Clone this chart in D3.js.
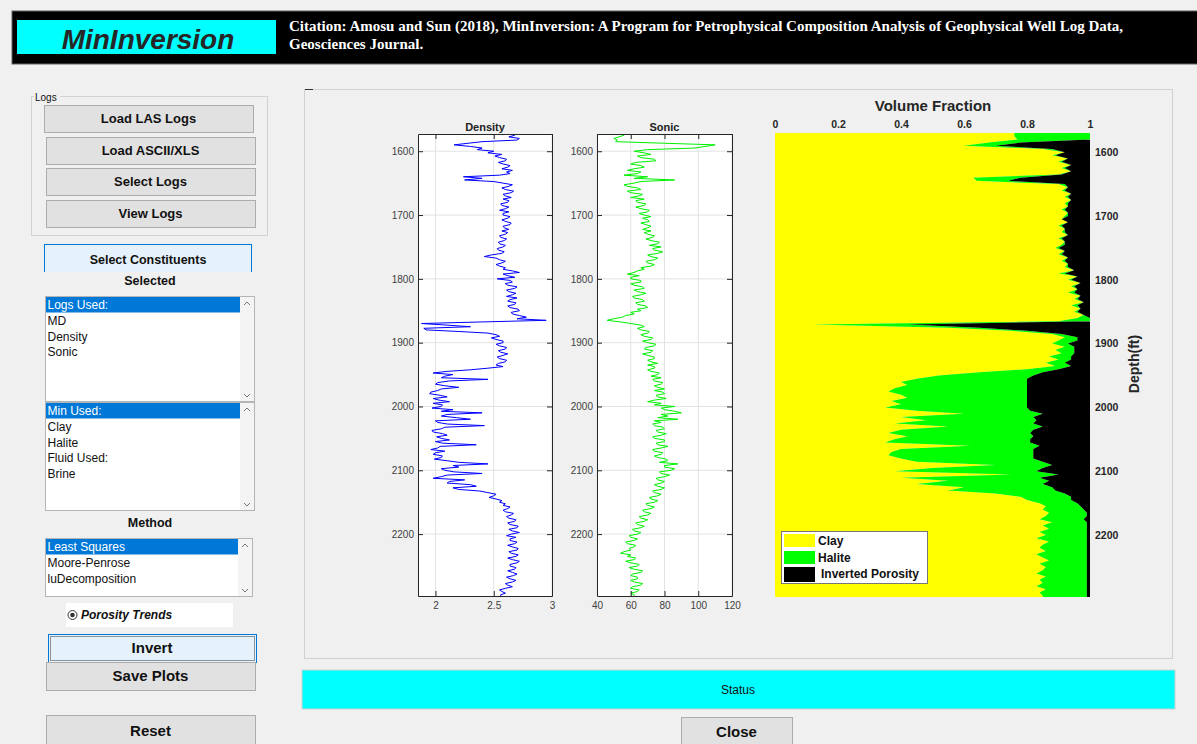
<!DOCTYPE html>
<html><head><meta charset="utf-8">
<script src="https://cdn.jsdelivr.net/npm/d3@7"></script>
<style>
html,body{margin:0;padding:0;background:#f0f0f0;}
svg{display:block;}
text{font-family:"Liberation Sans",Arial,sans-serif;}
</style></head><body>
<svg id="c" width="1197" height="744"></svg>
<script>
// ---------------- DATA ----------------
const logStart = 1575, logStep = 2.5;            // ft, sampling of the density / sonic logs
const vfStart = 1575, vfStep = 5;                // ft, sampling of the inverted fractions
const depthLimits = [1573, 2297];                // log track depth range
const vfDepthLimits = [1570, 2297];              // volume-fraction track depth range
const density = [
 2.68,2.63,2.72,2.70,2.40,2.28,2.16,2.30,2.40,2.36,2.50,2.45,2.57,2.51,2.55,2.61,2.60,2.54,2.58,2.64,
 2.62,2.57,2.66,2.61,2.64,2.55,2.24,2.40,2.25,2.50,2.58,2.66,2.63,2.57,2.60,2.67,2.65,2.58,2.60,2.65,
 2.58,2.63,2.62,2.56,2.57,2.63,2.60,2.55,2.63,2.58,2.58,2.64,2.62,2.57,2.60,2.65,2.64,2.58,2.59,2.63,
 2.57,2.62,2.60,2.55,2.56,2.61,2.59,2.54,2.55,2.60,2.58,2.53,2.54,2.59,2.57,2.48,2.42,2.52,2.55,2.60,
 2.57,2.52,2.55,2.60,2.58,2.66,2.72,2.58,2.62,2.68,2.53,2.64,2.66,2.60,2.62,2.70,2.68,2.61,2.63,2.69,
 2.66,2.61,2.70,2.64,2.62,2.69,2.68,2.62,2.64,2.71,2.72,2.65,2.66,2.72,2.78,2.70,2.95,2.40,1.88,2.10,
 2.30,1.90,1.92,2.20,2.45,2.52,2.55,2.48,2.52,2.58,2.58,2.52,2.55,2.61,2.60,2.54,2.56,2.62,2.58,2.53,
 2.55,2.61,2.60,2.54,2.52,2.58,2.45,2.30,2.10,1.98,2.15,2.08,2.05,2.45,2.12,2.02,2.00,2.08,2.20,2.05,
 2.02,1.96,1.95,2.04,2.10,1.98,2.03,2.12,1.98,2.06,2.05,1.97,2.15,2.05,2.40,2.10,2.05,2.18,2.30,2.00,
 2.02,2.10,2.42,2.08,2.05,1.97,1.98,2.06,2.10,2.01,2.05,2.12,2.00,2.06,2.35,2.04,2.02,1.96,2.08,2.00,
 1.98,2.06,2.05,1.99,2.10,2.20,2.45,2.15,2.20,2.05,2.08,2.16,2.40,2.10,2.05,1.98,2.25,2.12,2.10,2.30,
 2.35,2.15,2.20,2.38,2.45,2.52,2.50,2.46,2.52,2.57,2.55,2.60,2.58,2.64,2.62,2.58,2.60,2.67,2.65,2.61,
 2.63,2.69,2.68,2.62,2.64,2.71,2.70,2.63,2.66,2.72,2.65,2.61,2.69,2.64,2.64,2.70,2.68,2.62,2.66,2.71,
 2.70,2.63,2.65,2.71,2.69,2.62,2.66,2.72,2.70,2.64,2.64,2.69,2.68,2.62,2.66,2.70,2.67,2.61,2.64,2.69,
 2.66,2.60,2.62,2.66,2.60,2.55,2.57,2.60,2.56];
const sonic = [
 56,53,50,52,51,80,110,104,98,70,62,68,72,64,66,74,75,63,60,66,
 68,62,58,66,64,56,70,62,86,66,62,56,58,64,66,58,60,67,65,60,
 68,63,64,69,68,63,66,71,70,65,68,72,67,70,71,66,69,72,70,67,
 72,68,70,74,73,69,72,77,76,71,78,73,74,79,76,70,72,76,74,69,
 70,74,72,66,68,64,62,58,65,60,60,66,66,60,62,67,68,62,64,69,
 66,61,62,67,68,63,64,69,70,64,66,60,62,57,55,50,46,54,60,66,
 68,64,66,71,70,66,68,73,72,67,70,75,74,69,68,73,72,67,70,74,
 74,70,72,76,70,74,74,70,72,77,76,72,78,73,74,79,78,74,76,80,
 74,79,80,75,76,81,74,70,78,74,86,78,80,86,90,78,82,76,88,74,
 78,73,74,79,80,75,76,81,78,73,74,80,80,75,76,82,78,73,74,79,
 78,74,76,81,82,77,88,80,80,86,84,77,78,83,80,75,76,80,78,74,
 76,80,78,73,74,78,76,71,72,76,74,69,70,74,72,67,68,72,70,65,
 66,70,68,63,64,68,66,61,62,66,64,59,60,64,62,57,58,63,62,59,
 60,56,54,60,58,63,62,57,60,65,64,59,62,67,66,61,60,64,64,60,
 62,67,66,61,60,65,64,60,62];
const clay = [
 0.76,0.77,0.68,0.60,0.85,0.92,0.88,0.93,0.90,0.94,
 0.91,0.94,0.90,0.63,0.64,0.90,0.93,0.91,0.94,0.92,
 0.94,0.92,0.93,0.91,0.93,0.92,0.91,0.93,0.90,0.92,
 0.91,0.93,0.90,0.92,0.91,0.89,0.92,0.90,0.93,0.91,
 0.93,0.92,0.95,0.90,0.96,0.93,0.97,0.94,0.96,0.93,
 0.97,0.95,0.98,0.94,0.97,0.95,0.98,0.96,0.90,0.12,
 0.55,0.75,0.88,0.92,0.90,0.88,0.92,0.89,0.91,0.87,
 0.90,0.86,0.89,0.80,0.65,0.52,0.45,0.40,0.42,0.38,
 0.36,0.40,0.42,0.37,0.40,0.35,0.45,0.60,0.40,0.48,
 0.38,0.55,0.40,0.36,0.42,0.38,0.35,0.62,0.40,0.37,
 0.36,0.40,0.45,0.70,0.50,0.38,0.75,0.40,0.55,0.45,
 0.60,0.55,0.70,0.78,0.80,0.84,0.86,0.85,0.87,0.86,
 0.84,0.88,0.85,0.87,0.84,0.86,0.83,0.87,0.85,0.84,
 0.86,0.83,0.85,0.87,0.84,0.86,0.85,0.83,0.86,0.84,
 0.85,0.83,0.86,0.84,0.85];
const halite = [
 0.24,0.23,0.10,0.10,0.03,0.00,0.01,0.00,0.01,0.00,
 0.01,0.00,0.01,0.15,0.10,0.02,0.00,0.01,0.00,0.01,
 0.00,0.01,0.00,0.01,0.00,0.01,0.00,0.00,0.01,0.00,
 0.01,0.00,0.01,0.00,0.01,0.01,0.00,0.01,0.00,0.01,
 0.00,0.01,0.00,0.02,0.00,0.01,0.00,0.01,0.00,0.02,
 0.00,0.01,0.00,0.02,0.00,0.01,0.00,0.04,0.10,0.30,
 0.10,0.05,0.03,0.04,0.06,0.05,0.03,0.06,0.04,0.07,
 0.04,0.06,0.05,0.10,0.20,0.30,0.35,0.40,0.38,0.42,
 0.44,0.40,0.38,0.43,0.40,0.45,0.36,0.25,0.42,0.35,
 0.44,0.30,0.42,0.45,0.40,0.43,0.46,0.22,0.42,0.45,
 0.46,0.42,0.40,0.18,0.35,0.45,0.15,0.44,0.32,0.40,
 0.28,0.34,0.22,0.16,0.14,0.12,0.11,0.13,0.12,0.13,
 0.14,0.11,0.14,0.12,0.15,0.13,0.16,0.12,0.14,0.15,
 0.13,0.16,0.14,0.12,0.15,0.13,0.14,0.16,0.13,0.15,
 0.14,0.16,0.13,0.15,0.14];
const densityTicks = [2, 2.5, 3];
const densityDomain = [1.85, 3];
const sonicTicks = [40, 60, 80, 100, 120];
const sonicDomain = [40, 120];
const depthTicks = [1600, 1700, 1800, 1900, 2000, 2100, 2200];
const fractionTicks = [0, 0.2, 0.4, 0.6, 0.8, 1];
const legendLabels = ["Clay", "Halite", "Inverted Porosity"];
const legendColors = ["#ffff00", "#00ff00", "#000000"];
const logButtons = ["Load LAS Logs", "Load ASCII/XLS", "Select Logs", "View Logs"];
const logsUsed = ["Logs Used:", "MD", "Density", "Sonic"];
const minUsed = ["Min Used:", "Clay", "Halite", "Fluid Used:", "Brine"];
const methods = ["Least Squares", "Moore-Penrose", "luDecomposition"];
const citation = ["Citation: Amosu and Sun (2018), MinInversion: A Program for Petrophysical Composition Analysis of Geophysical Well Log Data,",
                  "Geosciences Journal."];

// ---------------- DRAW ----------------
const svg = d3.select("#c");
const logDepths = density.map((_, i) => logStart + i * logStep);
const vfDepths = clay.map((_, i) => vfStart + i * vfStep);

// header
svg.append("rect").attr("x", 12).attr("y", 11).attr("width", 1186).attr("height", 53)
  .attr("fill", "#000").attr("stroke", "#606060");
svg.append("rect").attr("x", 17).attr("y", 20).attr("width", 259).attr("height", 34).attr("fill", "#00ffff");
svg.append("text").attr("x", 148).attr("y", 48.5).attr("text-anchor", "middle")
  .attr("font-size", 28).attr("font-weight", "bold").attr("font-style", "italic").attr("fill", "#262626")
  .text("MinInversion");
svg.selectAll(".cit").data(citation).join("text").attr("class", "cit")
  .attr("x", 289).attr("y", (d, i) => 31 + i * 18)
  .attr("fill", "#fff").attr("font-weight", "bold").attr("font-size", 15)
  .style("font-family", '"Liberation Serif","Times New Roman",serif').text(d => d);

function button(x, y, w, h, label, fs, opt = {}) {
  const g = svg.append("g");
  g.append("rect").attr("x", x + 0.5).attr("y", y + 0.5).attr("width", w).attr("height", h)
    .attr("fill", opt.fill || "#e1e1e1").attr("stroke", opt.stroke || "#adadad");
  if (opt.focus) g.append("rect").attr("x", x + 2.5).attr("y", y + 2.5).attr("width", w - 4).attr("height", h - 4)
    .attr("fill", "none").attr("stroke", "#333").attr("stroke-dasharray", "1,1");
  g.append("text").attr("x", x + w / 2).attr("y", y + h / 2).attr("dy", "0.36em").attr("text-anchor", "middle")
    .attr("font-size", fs).attr("font-weight", "bold").attr("fill", "#111").text(label);
}

// Logs group
svg.append("rect").attr("x", 31.5).attr("y", 96.5).attr("width", 236).attr("height", 139)
  .attr("fill", "none").attr("stroke", "#d2d2d2");
svg.append("rect").attr("x", 34).attr("y", 91).attr("width", 26).attr("height", 11).attr("fill", "#f0f0f0");
svg.append("text").attr("x", 35).attr("y", 100.5).attr("font-size", 10).attr("fill", "#111").text("Logs");
const lbY = [105, 137, 168, 200], lbX = [44, 46, 46, 46];
logButtons.forEach((t, i) => button(lbX[i], lbY[i], 209, 27, t, 13));

// Select constituents
svg.append("rect").attr("x", 44.5).attr("y", 244.5).attr("width", 207).attr("height", 30)
  .attr("fill", "#e5f1fb").attr("stroke", "#0078d7");
svg.append("rect").attr("x", 44).attr("y", 272).attr("width", 210).attr("height", 18).attr("fill", "#f0f0f0");
svg.append("text").attr("x", 148).attr("y", 259).attr("dy", "0.36em").attr("text-anchor", "middle")
  .attr("font-size", 12.5).attr("font-weight", "bold").attr("fill", "#111").text("Select Constituents");
svg.append("text").attr("x", 150).attr("y", 280).attr("dy", "0.36em").attr("text-anchor", "middle")
  .attr("font-size", 12.5).attr("font-weight", "bold").attr("fill", "#111").text("Selected");

function listbox(x, y, w, h, items) {
  const g = svg.append("g");
  g.append("rect").attr("x", x + 0.5).attr("y", y + 0.5).attr("width", w).attr("height", h)
    .attr("fill", "#fff").attr("stroke", "#b5b5b5");
  g.append("rect").attr("x", x + w - 14).attr("y", y + 1).attr("width", 14).attr("height", h - 1).attr("fill", "#f4f4f4");
  g.append("rect").attr("x", x + 1).attr("y", y + 1).attr("width", w - 15).attr("height", 15.5).attr("fill", "#0078d7");
  g.selectAll("text").data(items).join("text").attr("x", x + 2.5).attr("y", (d, i) => y + 9 + i * 15.6)
    .attr("dy", "0.36em").attr("font-size", 12).attr("fill", (d, i) => i === 0 ? "#fff" : "#111").text(d => d);
  const ax = x + w - 7;
  g.append("path").attr("d", `M${ax - 3},${y + 9} L${ax},${y + 6} L${ax + 3},${y + 9}`).attr("fill", "none").attr("stroke", "#777");
  g.append("path").attr("d", `M${ax - 3},${y + h - 7} L${ax},${y + h - 4} L${ax + 3},${y + h - 7}`).attr("fill", "none").attr("stroke", "#777");
}
listbox(45, 296, 209, 105, logsUsed);
listbox(45, 402, 209, 108, minUsed);
svg.append("text").attr("x", 150).attr("y", 522.5).attr("dy", "0.36em").attr("text-anchor", "middle")
  .attr("font-size", 12.5).attr("font-weight", "bold").attr("fill", "#111").text("Method");
listbox(45, 538, 207, 58, methods);

// Porosity trends radio
svg.append("rect").attr("x", 66).attr("y", 603).attr("width", 167).attr("height", 24).attr("fill", "#fff");
svg.append("circle").attr("cx", 72.5).attr("cy", 615).attr("r", 4.5).attr("fill", "#fff").attr("stroke", "#333");
svg.append("circle").attr("cx", 72.5).attr("cy", 615).attr("r", 2.3).attr("fill", "#333");
svg.append("text").attr("x", 81).attr("y", 615).attr("dy", "0.36em").attr("font-size", 12)
  .attr("font-weight", "bold").attr("font-style", "italic").attr("fill", "#111").text("Porosity Trends");

button(48, 634, 208, 28, "Invert", 15, { fill: "#e5f1fb", stroke: "#0078d7", focus: true });
button(46, 662, 209, 28, "Save Plots", 15);
button(46, 715, 209, 31, "Reset", 15);

// plot panel
svg.append("rect").attr("x", 304.5).attr("y", 89.5).attr("width", 868).attr("height", 569)
  .attr("fill", "none").attr("stroke", "#d0d0d0");
svg.append("line").attr("x1", 305).attr("x2", 313).attr("y1", 89.5).attr("y2", 89.5).attr("stroke", "#333");

// status + close
svg.append("rect").attr("x", 302).attr("y", 670).attr("width", 873).attr("height", 39)
  .attr("fill", "#00ffff").attr("stroke", "#cfcfcf");
svg.append("text").attr("x", 738).attr("y", 690).attr("dy", "0.36em").attr("text-anchor", "middle")
  .attr("font-size", 12).attr("fill", "#111").style("font-family", '"Liberation Sans Narrow","Liberation Sans",sans-serif')
  .text("Status");
button(681, 717, 111, 30, "Close", 15);

// ---- log tracks ----
const yDepth = d3.scaleLinear().domain(depthLimits).range([134, 596]);
function logTrack(x0, x1, domain, ticks, values, color, title) {
  const x = d3.scaleLinear().domain(domain).range([x0, x1]);
  const g = svg.append("g");
  const [yt, yb] = yDepth.range();
  g.append("rect").attr("x", x0).attr("y", yt).attr("width", x1 - x0).attr("height", yb - yt).attr("fill", "#fff");
  g.selectAll(".vg").data(ticks).join("line").attr("x1", d => x(d)).attr("x2", d => x(d))
    .attr("y1", yt).attr("y2", yb).attr("stroke", "#e2e2e2");
  g.selectAll(".hg").data(depthTicks).join("line").attr("x1", x0).attr("x2", x1)
    .attr("y1", d => yDepth(d)).attr("y2", d => yDepth(d)).attr("stroke", "#e2e2e2");
  const pts = [{ d: depthLimits[0], v: values[0] }, ...values.map((v, i) => ({ d: logDepths[i], v })),
               { d: depthLimits[1], v: values[values.length - 1] }];
  g.append("path").datum(pts).attr("d", d3.line().x(p => x(p.v)).y(p => yDepth(p.d)))
    .attr("fill", "none").attr("stroke", color).attr("stroke-width", 1);
  const fmt = d => String(d);
  const style = a => {
    a.select(".domain").attr("stroke", "#262626");
    a.selectAll(".tick line").attr("stroke", "#262626");
    a.selectAll("text").attr("fill", "#404040").attr("font-size", 10).style("font-family", '"Liberation Sans",Arial,sans-serif');
  };
  g.append("g").attr("transform", `translate(${x0},0)`)
    .call(d3.axisLeft(yDepth).tickValues(depthTicks).tickSizeInner(-5).tickSizeOuter(0).tickPadding(4).tickFormat(fmt)).call(style);
  g.append("g").attr("transform", `translate(${x1},0)`)
    .call(d3.axisRight(yDepth).tickValues(depthTicks).tickSizeInner(-5).tickSizeOuter(0).tickFormat("")).call(style);
  g.append("g").attr("transform", `translate(0,${yb})`)
    .call(d3.axisBottom(x).tickValues(ticks).tickSizeInner(-5).tickSizeOuter(0).tickPadding(6).tickFormat(fmt)).call(style);
  g.append("g").attr("transform", `translate(0,${yt})`)
    .call(d3.axisTop(x).tickValues(ticks).tickSizeInner(-5).tickSizeOuter(0).tickFormat("")).call(style);
  g.append("text").attr("x", (x0 + x1) / 2).attr("y", yt - 3.5).attr("text-anchor", "middle")
    .attr("font-size", 11).attr("font-weight", "bold").attr("fill", "#222").text(title);
}
logTrack(418, 552, densityDomain, densityTicks, density, "#0000ff", "Density");
logTrack(597, 732, sonicDomain, sonicTicks, sonic, "#00f000", "Sonic");

// ---- volume fraction track ----
const xf = d3.scaleLinear().domain([0, 1]).range([775, 1090]);
const yf = d3.scaleLinear().domain(vfDepthLimits).range([133, 597]);
const rows = clay.map((c, i) => ({ d: vfDepths[i], c, h: halite[i] }));
const padded = [{ ...rows[0], d: vfDepthLimits[0] }, ...rows, { ...rows[rows.length - 1], d: vfDepthLimits[1] }];
const area = (f0, f1) => d3.area().y(r => yf(r.d)).x0(r => xf(f0(r))).x1(r => xf(f1(r)));
const vg = svg.append("g");
vg.append("path").datum(padded).attr("d", area(r => 0, r => r.c)).attr("fill", legendColors[0]);
vg.append("path").datum(padded).attr("d", area(r => r.c, r => r.c + r.h)).attr("fill", legendColors[1]);
vg.append("path").datum(padded).attr("d", area(r => r.c + r.h, r => 1)).attr("fill", legendColors[2]);

const vstyle = a => {
  a.select(".domain").remove();
  a.selectAll("text").attr("fill", "#262626").attr("font-size", 10.5).attr("font-weight", "bold")
    .style("font-family", '"Liberation Sans",Arial,sans-serif');
};
vg.append("g").attr("transform", `translate(0,${yf.range()[0]})`)
  .call(d3.axisTop(xf).tickValues(fractionTicks).tickSize(0).tickPadding(5).tickFormat(d => String(d))).call(vstyle);
vg.append("g").attr("transform", `translate(${xf.range()[1]},0)`)
  .call(d3.axisRight(yf).tickValues(depthTicks).tickSize(0).tickPadding(5).tickFormat(d => String(d))).call(vstyle);
vg.append("text").attr("x", 933).attr("y", 106).attr("dy", "0.36em").attr("text-anchor", "middle")
  .attr("font-size", 15).attr("font-weight", "bold").attr("fill", "#262626").text("Volume Fraction");
vg.append("text").attr("transform", "translate(1133.5,364) rotate(-90)").attr("dy", "0.36em").attr("text-anchor", "middle")
  .attr("font-size", 14).attr("font-weight", "bold").attr("fill", "#262626").text("Depth(ft)");

// legend
const lg = vg.append("g");
lg.append("rect").attr("x", 781.5).attr("y", 531.5).attr("width", 146).attr("height", 52)
  .attr("fill", "#fff").attr("stroke", "#777");
const swY = [534, 551, 567];
legendLabels.forEach((t, i) => {
  lg.append("rect").attr("x", 784).attr("y", swY[i]).attr("width", 31).attr("height", i === 2 ? 15 : 13).attr("fill", legendColors[i]);
  lg.append("text").attr("x", i === 2 ? 821 : 818).attr("y", swY[i] + 7).attr("dy", "0.36em")
    .attr("font-size", 12).attr("font-weight", "bold").attr("fill", "#111").text(t);
});
</script></body></html>
